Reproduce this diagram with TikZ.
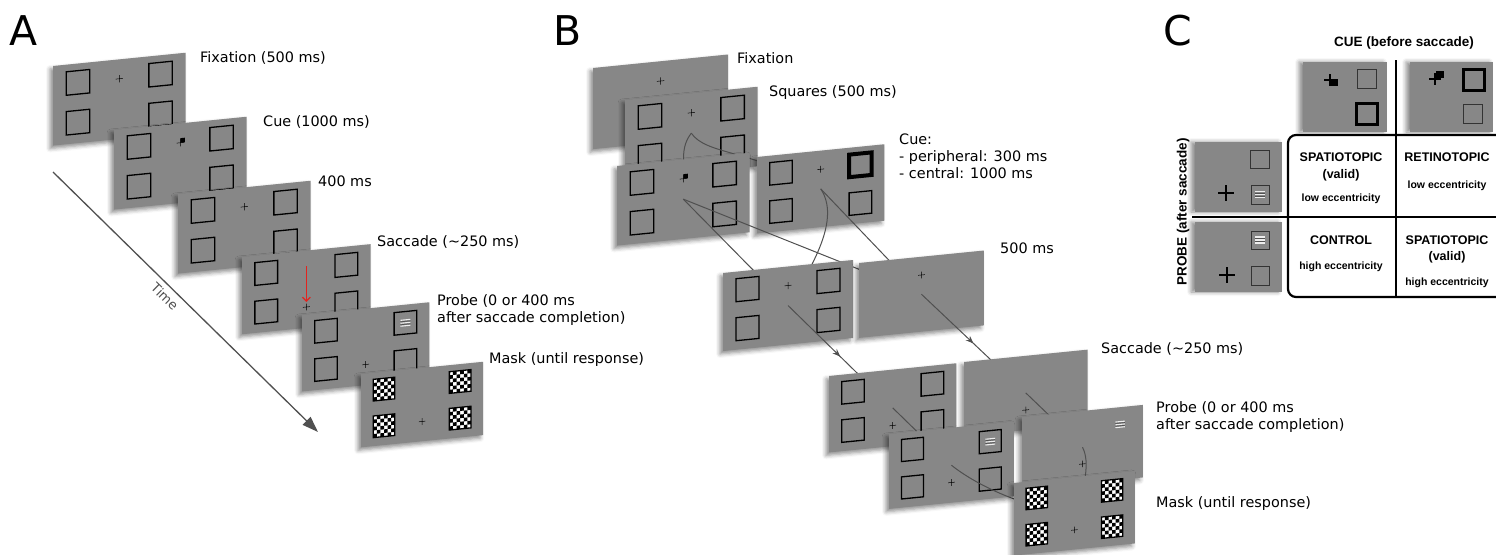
\documentclass[tikz,border=0pt]{standalone}
\usepackage{fontspec}
\setmainfont{DejaVu Sans}
\newfontfamily\cellfont{Liberation Sans}
\usepackage{tikz}
\usetikzlibrary{arrows.meta,calc,shadows.blur,decorations.markings}
\definecolor{ScrGray}{HTML}{878787}
\definecolor{LinkGray}{HTML}{505050}
\definecolor{CueRed}{HTML}{E3231E}

\tikzset{
  scr/.style={fill=ScrGray,blur shadow={shadow xshift=-3pt,shadow yshift=-3pt,shadow blur radius=4pt,shadow opacity=45}},
  cbox/.style={fill=ScrGray,blur shadow={shadow xshift=-4pt,shadow yshift=0pt,shadow blur radius=4pt,shadow opacity=45}},
  box/.style={draw=black,line width=1.3pt},
  fixc/.style={draw=black,line width=0.5pt},
  link/.style={draw=LinkGray,line width=1pt},
  midarrow/.style={postaction={decorate,decoration={markings,mark=at position 0.5 with {\arrow{Stealth[length=8pt,width=6pt]}}}}},
  lbl/.style={anchor=base west,inner sep=0pt,font=\fontsize{14.4}{17}\selectfont},
  panel/.style={anchor=base west,inner sep=0pt,font=\fontsize{41}{41}\selectfont},
  hd/.style={inner sep=0pt,font=\cellfont\bfseries\fontsize{13.5}{16}\selectfont},
  big/.style={inner sep=0pt,font=\cellfont\bfseries\fontsize{12.5}{15}\selectfont},
  small/.style={inner sep=0pt,font=\cellfont\bfseries\fontsize{10.5}{13}\selectfont},
}

% centre of a display; #1 name, #2 place, #3 scale
\newcommand{\spot}[3]{%
  \begin{scope}[shift={#2},scale=#3,yslant=0.1]
    \coordinate (#1-c) at (65,39);
  \end{scope}}
% one display, drawn slanted; #1 place, #2 scale, #3 what is on it
\newcommand{\screen}[3]{%
  \begin{scope}[shift={#1},scale=#2,yslant=0.1]
    \path[scr] (0,0) rectangle (130,78);
    #3
  \end{scope}}
\newcommand{\fixat}[2]{\draw[fixc] (#1-3.5,#2) -- (#1+3.5,#2) (#1,#2-3.5) -- (#1,#2+3.5);}
\newcommand{\fixtop}{\fixat{65}{19}}
\newcommand{\fixbot}{\fixat{65}{57}}
\newcommand{\cueblob}{\fixtop\fill (65,19) rectangle (69.5,14.5);}
\newcommand{\foursq}{\foreach \u/\v in {13/7,94/7,13/46,94/46} \draw[box] (\u,\v) rectangle +(23,23);}
\newcommand{\grating}[2]{%
  \foreach \k in {-3,0,3} \draw[line width=1.1pt,white!85!ScrGray] (#1-5,#2+\k) -- (#1+5,#2+\k);
  \foreach \k in {-1.5,1.5} \draw[line width=0.7pt,ScrGray!60!black] (#1-5,#2+\k) -- (#1+5,#2+\k);}
\newcommand{\checkb}[2]{%
  \fill[white] (#1,#2) rectangle +(23,23);
  \foreach \i in {0,...,5}{\foreach \j in {0,...,5}{%
    \pgfmathtruncatemacro\odd{mod(\i+\j,2)}%
    \ifnum\odd=1 \fill (#1+\i*23/6,#2+\j*23/6) rectangle +(23/6,23/6);\fi}}
  \draw[box] (#1,#2) rectangle +(23,23);}
\newcommand{\maskset}{\foreach \u/\v in {13/7,94/7,13/46,94/46}{\checkb{\u}{\v}}}

\begin{document}
\begin{tikzpicture}[x=1pt,y=-1pt]
\clip (0,0) rectangle (1496,554);

% A
\node[panel] (labA) at (9,45) {A};
\coordinate (t0) at (53,172);
\coordinate (t1) at (318,432);
\draw[LinkGray,line width=1.3pt,-{Triangle[length=16pt,width=11pt]}] (t0) -- node[sloped,below=5pt,pos=0.45,inner sep=0pt,text=LinkGray,font=\fontsize{13}{15}\selectfont] (timelbl) {Time} (t1);
\screen{(53,66)}{1.02}{\foursq\fixtop}
\screen{(114,130)}{1.02}{\foursq\cueblob}
\screen{(178,194)}{1.02}{\foursq\fixtop}
\screen{(242,257)}{0.99}{\foursq\fixbot
  \coordinate (sac0) at (65,16); \coordinate (sac1) at (65,52);
  \draw[CueRed,line width=1.2pt,-{Straight Barb[length=4pt,width=8pt]}] (sac0) -- (sac1);}
\screen{(302,315)}{0.98}{\foursq\grating{105.5}{18.5}\fixbot}
\screen{(361,374)}{0.94}{\maskset\fixbot}
\node[lbl] (fixA) at (200,62) {Fixation (500 ms)};
\node[lbl] (cueA) at (263,126) {Cue (1000 ms)};
\node[lbl] (gapA) at (318,186) {400 ms};
\node[lbl] (sacA) at (377,246) {Saccade (\char`\~250 ms)};
\node[lbl] (prbA) at (437,305) {Probe (0 or 400 ms};
\node[lbl] (prbA2) at (437,322) {after saccade completion)};
\node[lbl] (mskA) at (489,363) {Mask (until response)};

% B
\node[panel] (labB) at (553,45) {B};
\spot{bs}{(625,100)}{1.02}
\spot{bcl}{(617,166)}{1.02}
\spot{bcr}{(757,157)}{0.98}
\spot{bl2}{(723,273)}{1.0}
\spot{br2}{(859,263)}{0.96}
\spot{bl3}{(829,376)}{0.98}
\spot{br3}{(964,362)}{0.95}
\spot{bl4}{(889,434)}{0.96}
\spot{br4}{(1022,417)}{0.93}
\spot{bm}{(1014,483)}{0.93}
\screen{(593,68)}{1.04}{\fixtop}
\screen{(625,100)}{1.02}{\foursq\fixtop}
\draw[link] (bs-c) .. controls +(-14,18) and +(4,-30) .. (bcl-c);
\draw[link] (bs-c) .. controls +(15,22) and +(-70,-40) .. (bcr-c);
\screen{(617,166)}{1.02}{\foursq\cueblob}
\screen{(757,157)}{0.98}{\foursq\fixtop\draw[line width=4pt] (94,7) rectangle +(23,23);}
\draw[link] (bcl-c) -- (bl2-c);
\draw[link] (bcl-c) -- (br2-c);
\draw[link] (bcr-c) .. controls +(20,30) and +(25,-40) .. (bl2-c);
\draw[link] (bcr-c) -- (br2-c);
\screen{(723,273)}{1.0}{\foursq\fixtop}
\screen{(859,263)}{0.96}{\fixtop}
\draw[link,midarrow] (bl2-c) -- (bl3-c);
\draw[link,midarrow] (br2-c) -- (br3-c);
\screen{(829,376)}{0.98}{\foursq\fixbot}
\screen{(964,362)}{0.95}{\fixbot}
\draw[link] (bl3-c) -- (bl4-c);
\draw[link] (br3-c) -- (br4-c);
\screen{(889,434)}{0.96}{\foursq\grating{105.5}{18.5}\fixbot}
\screen{(1022,417)}{0.93}{\grating{105.5}{18.5}\fixbot}
\draw[link] (bl4-c) .. controls +(25,20) and +(-50,-5) .. (bm-c);
\draw[link] (br4-c) .. controls +(8,15) and +(10,-25) .. (bm-c);
\screen{(1014,483)}{0.93}{\maskset\fixbot}
\node[lbl] (fixB) at (737,63) {Fixation};
\node[lbl] (sqB) at (769,96) {Squares (500 ms)};
\node[lbl] (cueB) at (899,144) {Cue:};
\node[lbl] (cueB2) at (899,161) {- peripheral: 300 ms};
\node[lbl] (cueB3) at (899,178) {- central: 1000 ms};
\node[lbl] (gapB) at (1000,253) {500 ms};
\node[lbl] (sacB) at (1101,353) {Saccade (\char`\~250 ms)};
\node[lbl] (prbB) at (1156,412) {Probe (0 or 400 ms};
\node[lbl] (prbB2) at (1156,429) {after saccade completion)};
\node[lbl] (mskB) at (1156,507) {Mask (until response)};

% C
\node[panel] (labC) at (1163,45) {C};
\node[hd] (cuehd) at (1404,43) {CUE (before saccade)};
\node[hd,rotate=90] (prbhd) at (1183,212) {PROBE (after saccade)};
\path[cbox] (1303,62) rectangle (1387,132);
\path[cbox] (1410,62) rectangle (1493,132);
\path[cbox] (1195,142) rectangle (1282,212);
\path[cbox] (1195,222) rectangle (1282,292);
% cue pictures
\draw[line width=1.2pt] (1324,80) -- (1336,80) (1330,74) -- (1330,86);
\fill (1331,79) rectangle (1338,86);
\draw[line width=0.8pt,black!80] (1357,69) rectangle (1376,88);
\draw[line width=3pt] (1356,103) rectangle (1377,124);
\draw[line width=1.2pt] (1429,79) -- (1441,79) (1435,73) -- (1435,85);
\fill (1436,71) rectangle (1444,78);
\draw[line width=3pt] (1463,69) rectangle (1484,90);
\draw[line width=0.8pt,black!80] (1463,104) rectangle (1482,123);
% probe pictures
\draw[line width=0.8pt,black!80] (1250,150) rectangle (1269,168);
\draw[line width=0.8pt,black!80] (1251,185) rectangle (1269,204);
\grating{1260}{194.5}
\draw[line width=1.2pt] (1218,193) -- (1234,193) (1226,185) -- (1226,201);
\draw[line width=0.8pt,black!80] (1251,231) rectangle (1269,249);
\grating{1260}{240}
\draw[line width=0.8pt,black!80] (1251,266) rectangle (1269,285);
\draw[line width=1.2pt] (1219,275) -- (1235,275) (1227,267) -- (1227,283);
% table
\draw[line width=2.2pt,rounded corners=8pt] (1288,135) rectangle (1520,297);
\draw[line width=2.2pt] (1396,60) -- (1396,297);
\draw[line width=2.2pt] (1192,217) -- (1500,217);
\node[big] (c11a) at (1341,157) {SPATIOTOPIC};
\node[big] (c11b) at (1341,175) {(valid)};
\node[small] (c11c) at (1341,199) {low eccentricity};
\node[big] (c12a) at (1447,157) {RETINOTOPIC};
\node[small] (c12b) at (1447,186) {low eccentricity};
\node[big] (c21a) at (1341,240) {CONTROL};
\node[small] (c21b) at (1341,267) {high eccentricity};
\node[big] (c22a) at (1447,240) {SPATIOTOPIC};
\node[big] (c22b) at (1447,257) {(valid)};
\node[small] (c22c) at (1447,283) {high eccentricity};
\end{tikzpicture}
\end{document}
